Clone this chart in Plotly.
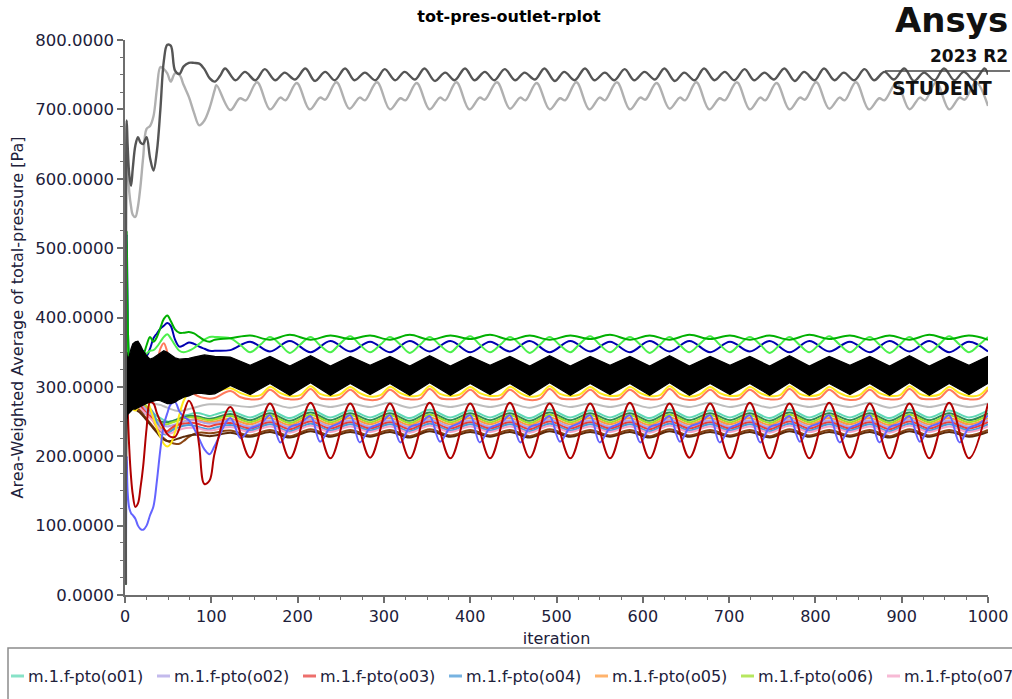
import plotly.graph_objects as go

# ---------------------------------------------------------------------------
# Figure geometry (pixels)
FIG_W, FIG_H = 1012, 699
M_L, M_R, M_T, M_B = 125, 24, 40, 104
PLOT_W = FIG_W - M_L - M_R
PLOT_H = FIG_H - M_T - M_B

FONT = "DejaVu Sans"
TEXT_COLOR = "#20203a"
AXIS_COLOR = "#6e6e6e"

# ---------------------------------------------------------------------------
# Iteration stations
it_start = [1, 2, 3, 5, 7, 9, 12, 15, 18, 21, 25, 29, 33, 37, 41, 45, 49, 53,
            58, 63, 68, 74, 80, 86, 92, 98, 104]

# quarter-cycle stations of the periodic regime (peak, falling, trough, rising)
it_q = [122, 134, 145, 157, 168, 180, 191, 203, 215, 226, 238, 249, 261, 272,
        284, 296, 307, 319, 330, 342, 353, 365, 377, 388, 400, 411, 423, 435,
        446, 458, 469, 481, 492, 504, 516, 527, 539, 550, 562, 573, 585, 597,
        608, 620, 631, 643, 654, 666, 678, 689, 701, 712, 724, 736, 747, 759,
        770, 782, 793, 805, 816, 828, 840, 851, 863, 874, 886, 898, 909, 921,
        932, 944, 955, 967, 978, 990, 1000]
# half-cycle stations (peaks and troughs only)
it_h = it_q[::2]

# turning points of the two upper curves
it_dgray = [110, 116, 128, 139, 151, 162, 174, 185, 197, 209, 220, 232, 243,
            255, 266, 278, 290, 301, 313, 324, 336, 347, 359, 371, 382, 394,
            405, 417, 428, 440, 452, 463, 475, 486, 498, 509, 521, 533, 544,
            556, 567, 579, 590, 602, 614, 625, 637, 648, 660, 671, 683, 695,
            706, 718, 729, 741, 752, 764, 776, 787, 799, 810, 822, 833, 845,
            857, 868, 880, 891, 903, 914, 926, 938, 949, 961, 972, 984, 996,
            1000]
it_lgray = [106, 122, 133, 140, 153, 168, 180, 186, 199, 214, 226, 232, 245,
            260, 272, 278, 292, 307, 319, 325, 338, 353, 365, 371, 384, 399,
            411, 417, 431, 446, 458, 464, 477, 492, 504, 510, 523, 538, 550,
            556, 570, 585, 597, 603, 616, 631, 643, 649, 662, 677, 689, 695,
            709, 724, 736, 742, 755, 770, 782, 788, 801, 816, 828, 834, 847,
            862, 874, 880, 894, 909, 921, 927, 940, 955, 967, 973, 986, 1000]

# ---------------------------------------------------------------------------
# Series names and colours
names = ["m.1.f-pto(o01)", "m.1.f-pto(o02)", "m.1.f-pto(o03)", "m.1.f-pto(o04)",
         "m.1.f-pto(o05)", "m.1.f-pto(o06)", "m.1.f-pto(o07)", "m.1.f-pto(o08)",
         "m.1.f-pto(o09)", "m.1.f-pto(o10)", "m.1.f-pto(o11)", "m.1.f-pto(o12)",
         "m.1.f-pto(o13)", "m.1.f-pto(o14)", "m.1.f-pto(o15)", "m.1.f-pto(o16)",
         "m.1.f-pto(o17)", "m.1.f-pto(o18)", "m.1.f-pto(o19)", "m.1.f-pto(o20)",
         "m.1.f-pto(o21)"]
colors = ["#5fd9b5", "#b0a3e6", "#e8403c", "#4a9ad8", "#ff9a3c", "#9ee02a",
          "#f5a3c7", "#2e8b57", "#8b4513", "#5c2a0a", "#bdbdbd", "#ff7a5c",
          "#ffe81a", "#6464ff", "#b00000", "#00b000", "#4cf04c", "#0000b0",
          "#000000", "#b0b0b0", "#555555"]

# ---------------------------------------------------------------------------
# Values [Pa]: start-up part on it_start, periodic part on the listed stations
o01_a = [15, 320, 300, 290, 288, 285, 283, 282, 280, 275, 270, 266, 262, 258, 255, 252, 250, 250, 252, 255, 258, 260, 262, 262, 260, 258, 260]
o01_b = [265, 256, 266, 255, 267, 256, 266, 256, 266, 255, 267, 256, 266, 256, 266, 255, 267, 256, 266, 256,
         266, 255, 267, 256, 266, 256, 266, 255, 267, 256, 266, 256, 266, 255, 267, 256, 266, 256, 266]
o02_a = [15, 310, 295, 288, 285, 282, 280, 278, 276, 272, 266, 262, 256, 250, 246, 244, 243, 244, 246, 248, 250, 251, 252, 250, 248, 247, 248]
o02_b = [251, 243, 252, 242, 253, 243, 252, 243, 252, 242, 253, 243, 252, 243, 252, 242, 253, 243, 252, 243,
         252, 242, 253, 243, 252, 243, 252, 242, 253, 243, 252, 243, 252, 242, 253, 243, 252, 243, 252]
o03_a = [15, 305, 292, 285, 282, 280, 278, 276, 273, 268, 262, 258, 250, 242, 236, 234, 236, 240, 244, 246, 247, 248, 248, 246, 244, 243, 245]
o03_b = [248, 240, 249, 239, 250, 240, 249, 240, 249, 239, 250, 240, 249, 240, 249, 239, 250, 240, 249, 240,
         249, 239, 250, 240, 249, 240, 249, 239, 250, 240, 249, 240, 249, 239, 250, 240, 249, 240, 249]
o04_a = [15, 300, 290, 282, 278, 276, 275, 272, 268, 262, 262, 268, 262, 248, 238, 232, 232, 236, 240, 242, 244, 245, 244, 242, 240, 239, 241]
o04_b = [245, 237, 246, 236, 247, 237, 246, 237, 246, 236, 247, 237, 246, 237, 246, 236, 247, 237, 246, 237,
         246, 236, 247, 237, 246, 237, 246, 236, 247, 237, 246, 237, 246, 236, 247, 237, 246, 237, 246]
o05_a = [15, 315, 298, 290, 286, 284, 282, 280, 278, 274, 268, 262, 255, 248, 242, 238, 236, 238, 242, 246, 250, 252, 253, 252, 250, 249, 250]
o05_b = [254, 246, 255, 245, 256, 246, 255, 246, 255, 245, 256, 246, 255, 246, 255, 245, 256, 246, 255, 246,
         255, 245, 256, 246, 255, 246, 255, 245, 256, 246, 255, 246, 255, 245, 256, 246, 255, 246, 255]
o06_a = [15, 320, 300, 292, 290, 288, 286, 284, 282, 278, 272, 266, 260, 252, 248, 246, 246, 248, 250, 252, 254, 256, 256, 255, 253, 252, 253]
o06_b = [258, 249, 259, 248, 260, 249, 259, 249, 259, 248, 260, 249, 259, 249, 259, 248, 260, 249, 259, 249,
         259, 248, 260, 249, 259, 249, 259, 248, 260, 249, 259, 249, 259, 248, 260, 249, 259, 249, 259]
o07_a = [15, 300, 288, 280, 276, 274, 272, 270, 268, 265, 260, 255, 250, 244, 238, 234, 232, 233, 236, 238, 240, 241, 241, 240, 238, 237, 238]
o07_b = [242, 235, 243, 234, 244, 235, 243, 235, 243, 234, 244, 235, 243, 235, 243, 234, 244, 235, 243, 235,
         243, 234, 244, 235, 243, 235, 243, 234, 244, 235, 243, 235, 243, 234, 244, 235, 243, 235, 243]
o08_a = [15, 318, 300, 292, 288, 285, 284, 282, 280, 276, 270, 264, 258, 252, 250, 249, 249, 250, 252, 254, 256, 258, 258, 257, 255, 254, 255]
o08_b = [261, 252, 262, 251, 263, 252, 262, 252, 262, 251, 263, 252, 262, 252, 262, 251, 263, 252, 262, 252,
         262, 251, 263, 252, 262, 252, 262, 251, 263, 252, 262, 252, 262, 251, 263, 252, 262, 252, 262]
o09_a = [15, 295, 285, 278, 274, 272, 270, 268, 265, 260, 254, 248, 242, 236, 230, 226, 222, 220, 218, 218, 222, 228, 232, 234, 234, 233, 234]
o09_b = [237, 230, 238, 229, 239, 230, 238, 230, 238, 229, 239, 230, 238, 230, 238, 229, 239, 230, 238, 230,
         238, 229, 239, 230, 238, 230, 238, 229, 239, 230, 238, 230, 238, 229, 239, 230, 238, 230, 238]
o10_a = [15, 290, 282, 275, 272, 270, 268, 265, 262, 258, 252, 246, 240, 234, 228, 224, 222, 222, 224, 226, 228, 230, 231, 231, 230, 229, 230]
o10_b = [234, 228, 235, 227, 236, 228, 235, 228, 235, 227, 236, 228, 235, 228, 235, 227, 236, 228, 235, 228,
         235, 227, 236, 228, 235, 228, 235, 227, 236, 228, 235, 228, 235, 227, 236, 228, 235, 228, 235]

# grey, below the black band (half-cycle stations)
o11_a = [15, 300, 290, 285, 282, 280, 280, 282, 284, 283, 280, 278, 276, 275, 274, 272, 270, 268, 266, 265, 266, 268, 270, 272, 274, 275, 275]
o11_b = [274, 271, 276, 270, 276, 271, 276, 271, 277, 270, 276, 271, 276, 271, 276, 270, 277, 271, 276, 271,
         276, 270, 276, 271, 277, 271, 276, 270, 276, 271, 276, 271, 277, 270, 276, 271, 276, 271, 276]

# salmon and yellow (quarter-cycle stations)
o12_a = [15, 350, 320, 300, 295, 290, 292, 300, 305, 300, 290, 295, 305, 330, 355, 363, 350, 330, 315, 305, 300, 296, 290, 286, 284, 283, 284]
o12_b = [294, 285, 282, 283, 296, 285, 282, 283, 297, 284, 282, 284, 296, 285, 281, 283, 296, 285, 282, 283,
         297, 284, 282, 284, 296, 285, 282, 283, 296, 285, 281, 283, 297, 284, 282, 284, 296, 285, 282, 283,
         296, 285, 282, 283, 297, 284, 281, 284, 296, 285, 282, 283, 296, 285, 282, 283, 297, 284, 282, 284,
         296, 285, 281, 283, 296, 285, 282, 283, 297, 284, 282, 284, 296, 285, 282, 283, 296]
o13_a = [15, 330, 300, 280, 275, 268, 266, 270, 280, 285, 282, 270, 255, 240, 228, 218, 214, 218, 235, 260, 280, 292, 296, 295, 292, 290, 292]
o13_b = [298, 291, 287, 288, 300, 291, 287, 288, 301, 290, 287, 289, 300, 291, 286, 288, 300, 291, 287, 288,
         301, 290, 287, 289, 300, 291, 287, 288, 300, 291, 286, 288, 301, 290, 287, 289, 300, 291, 287, 288,
         300, 291, 287, 288, 301, 290, 286, 289, 300, 291, 287, 288, 300, 291, 287, 288, 301, 290, 287, 289,
         300, 291, 286, 288, 300, 291, 287, 288, 301, 290, 287, 289, 300, 291, 287, 288, 300]

# slate blue (quarter-cycle stations)
o14_a = [15, 200, 150, 125, 118, 115, 110, 100, 95, 94, 100, 115, 128, 165, 210, 245, 262, 275, 278, 265, 257, 252, 240, 225, 210, 203, 215]
o14_b = [255, 226, 240, 246, 259, 220, 242, 247, 258, 221, 242, 248, 259, 220, 241, 247, 259, 220, 242, 247,
         258, 221, 242, 248, 259, 220, 241, 247, 259, 220, 242, 247, 258, 221, 242, 248, 259, 220, 241, 247,
         259, 220, 242, 247, 258, 221, 242, 248, 259, 220, 241, 247, 259, 220, 242, 247, 258, 221, 242, 248,
         259, 220, 241, 247, 259, 220, 242, 247, 258, 221, 242, 248, 259, 220, 241, 247, 259]

# dark red (half-cycle stations)
o15_a = [15, 300, 271, 210, 170, 145, 127, 132, 155, 185, 240, 278, 276, 262, 250, 240, 232, 228, 228, 240, 262, 280, 265, 215, 160, 165, 205]
o15_b = [271, 198, 276, 197, 277, 197, 276, 198, 276, 197, 277, 197, 276, 197, 277, 198, 276, 197, 276, 197,
         277, 197, 276, 198, 276, 197, 277, 197, 276, 197, 277, 198, 276, 197, 276, 197, 277, 197, 276]

# green (half-cycle stations)
o16_a = [15, 525, 400, 330, 300, 320, 340, 345, 340, 345, 360, 372, 365, 372, 385, 398, 403, 395, 383, 378, 378, 379, 377, 372, 367, 365, 368]
o16_b = [370, 374, 368, 375, 368, 374, 369, 374, 368, 375, 368, 374, 369, 375, 368, 374, 368, 374, 369, 375,
         368, 374, 368, 375, 369, 374, 368, 374, 368, 375, 369, 374, 368, 374, 368, 375, 369, 374, 368]

# light green (quarter-cycle stations)
o17_a = [15, 480, 380, 300, 290, 300, 310, 320, 330, 340, 348, 352, 353, 358, 365, 372, 376, 370, 360, 352, 350, 352, 356, 362, 368, 372, 372]
o17_b = [370, 360, 350, 361, 372, 361, 349, 361, 372, 360, 350, 362, 373, 361, 350, 361, 372, 361, 349, 361,
         372, 360, 350, 362, 373, 361, 350, 361, 372, 361, 349, 361, 372, 360, 350, 362, 373, 361, 350, 361,
         372, 361, 349, 361, 372, 360, 350, 362, 373, 361, 350, 361, 372, 361, 349, 361, 372, 360, 350, 362,
         373, 361, 350, 361, 372, 361, 349, 361, 372, 360, 350, 362, 373, 361, 350, 361, 372]

# navy (half-cycle stations)
o18_a = [15, 520, 420, 330, 320, 335, 345, 350, 352, 352, 345, 355, 370, 377, 384, 388, 392, 388, 368, 358, 360, 364, 362, 358, 355, 352, 352]
o18_b = [353, 365, 351, 366, 350, 366, 351, 365, 350, 366, 351, 366, 350, 365, 351, 366, 350, 366, 351, 365,
         350, 366, 351, 366, 350, 365, 351, 366, 350, 366, 351, 365, 350, 366, 351, 366, 350, 365, 351]

# black: fast oscillation, kept as its upper / lower envelope (half-cycle stations)
o19_hi_a = [15, 350, 340, 345, 355, 362, 365, 366, 360, 352, 345, 340, 342, 345, 348, 352, 350, 346, 342, 340, 340, 341, 343, 345, 346, 345, 344]
o19_lo_a = [15, 250, 260, 262, 265, 268, 268, 270, 272, 274, 276, 278, 280, 281, 280, 278, 276, 276, 278, 282, 285, 287, 290, 291, 290, 289, 290]
o19_hi_b = [343, 331, 344, 330, 345, 330, 344, 331, 344, 330, 345, 330, 344, 331, 344, 330, 345, 330, 344, 331,
            344, 330, 345, 330, 344, 331, 344, 330, 345, 330, 344, 331, 344, 330, 345, 330, 344, 331, 344]
o19_lo_b = [302, 289, 305, 288, 306, 288, 305, 289, 305, 288, 306, 288, 305, 289, 305, 288, 306, 288, 305, 289,
            305, 288, 306, 288, 305, 289, 305, 288, 306, 288, 305, 289, 305, 288, 306, 288, 305, 289, 305]

# light grey (own turning points)
o20_a = [15, 641, 620, 580, 560, 548, 545, 560, 590, 630, 672, 676, 690, 730, 761, 758, 752, 740, 752, 750, 735, 718, 695, 677, 684, 702, 728]
o20_b = [735, 699, 716, 713,
         739, 700, 717, 713, 738, 700, 717, 714, 739, 701, 717, 713, 739, 700, 716, 713, 738, 700, 717, 713,
         739, 700, 717, 714, 739, 701, 717, 713, 738, 700, 716, 713, 739, 700, 717, 713, 739, 700, 717, 714,
         738, 701, 717, 713, 739, 700, 716, 713, 739, 700, 717, 713, 738, 700, 717, 714, 739, 701, 717, 713,
         739, 700, 716, 713, 738, 700, 717, 713, 739, 700, 717, 714,
         739, 705]

# dark grey (own turning points)
o21_a = [15, 684, 650, 605, 590, 615, 648, 660, 652, 650, 660, 630, 612, 640, 700, 770, 793, 792, 756, 751, 762, 767, 767, 766, 758, 745, 740]
o21_b = [748,
         759, 742, 754, 742, 758, 742, 753, 743, 759, 741, 754, 742, 759, 742, 753, 742, 758, 742, 754, 743,
         759, 741, 753, 742, 759, 742, 754, 742, 758, 742, 753, 743, 759, 741, 754, 742, 759, 742, 753, 742,
         758, 742, 754, 743, 759, 741, 753, 742, 759, 742, 754, 742, 758, 742, 753, 743, 759, 741, 754, 742,
         759, 742, 753, 742, 758, 742, 754, 743, 759, 741, 753, 742, 759, 742, 754, 742,
         759, 750]

# axis ticks
y_ticks = [0, 100, 200, 300, 400, 500, 600, 700, 800]
x_ticks = [0, 100, 200, 300, 400, 500, 600, 700, 800, 900, 1000]

# ---------------------------------------------------------------------------
fig = go.Figure()


def add_series(idx, x_tail, y_head, y_tail, width=2.0, shape="spline"):
    fig.add_trace(go.Scatter(
        x=it_start + x_tail, y=y_head + y_tail, mode="lines", name=names[idx],
        line=dict(color=colors[idx], width=width, shape=shape, smoothing=1.0),
        showlegend=False, hoverinfo="skip"))


# bundle of outlets around 230-265 Pa
add_series(0, it_h, o01_a, o01_b)
add_series(7, it_h, o08_a, o08_b)
add_series(5, it_h, o06_a, o06_b)
add_series(4, it_h, o05_a, o05_b)
add_series(1, it_h, o02_a, o02_b)
add_series(2, it_h, o03_a, o03_b)
add_series(3, it_h, o04_a, o04_b)
add_series(6, it_h, o07_a, o07_b)
add_series(8, it_h, o09_a, o09_b)
add_series(9, it_h, o10_a, o10_b)
# mid-level outlets
add_series(10, it_h, o11_a, o11_b)
add_series(11, it_q, o12_a, o12_b)
add_series(12, it_q, o13_a, o13_b)
add_series(13, it_q, o14_a, o14_b)
add_series(14, it_h, o15_a, o15_b)
add_series(17, it_h, o18_a, o18_b)
add_series(16, it_q, o17_a, o17_b)
add_series(15, it_h, o16_a, o16_b)

# black band
fig.add_trace(go.Scatter(
    x=it_start + it_h, y=o19_lo_a + o19_lo_b, mode="lines", name=names[18],
    line=dict(color=colors[18], width=1.2, shape="linear"),
    showlegend=False, hoverinfo="skip"))
fig.add_trace(go.Scatter(
    x=it_start + it_h, y=o19_hi_a + o19_hi_b, mode="lines", name=names[18],
    line=dict(color=colors[18], width=1.2, shape="linear"),
    fill="tonexty", fillcolor=colors[18],
    showlegend=False, hoverinfo="skip"))

# upper pair
add_series(19, it_lgray, o20_a, o20_b, width=2.4)
add_series(20, it_dgray, o21_a, o21_b, width=2.4)


# ---------------------------------------------------------------------------
def px_x(px):
    return (px - M_L) / PLOT_W


def px_y(py):
    return (FIG_H - M_B - py) / PLOT_H


shapes = []
annotations = []

# legend frame and entries
shapes.append(dict(type="rect", xref="paper", yref="paper",
                   x0=px_x(8), x1=px_x(1040), y0=px_y(648), y1=px_y(730),
                   line=dict(color="#8c8c8c", width=1.5), fillcolor="rgba(0,0,0,0)", layer="above"))
entry_step = 146.0
for i in range(len(names)):
    x0 = 11 + i * entry_step
    if x0 > FIG_W:
        break
    shapes.append(dict(type="line", xref="paper", yref="paper",
                       x0=px_x(x0), x1=px_x(x0 + 13), y0=px_y(676), y1=px_y(676),
                       line=dict(color=colors[i], width=3), opacity=0.75))
    annotations.append(dict(text=names[i], xref="paper", yref="paper",
                            x=px_x(x0 + 15), y=px_y(676), xanchor="left", yanchor="middle",
                            showarrow=False, font=dict(family=FONT, size=16, color=TEXT_COLOR)))

# product mark, top right
annotations.append(dict(text="<b>Ansys</b>", xref="paper", yref="paper",
                        x=px_x(1010), y=px_y(20), xanchor="right", yanchor="middle",
                        showarrow=False, font=dict(family=FONT, size=34, color="#111111")))
annotations.append(dict(text="<b>2023 R2</b>", xref="paper", yref="paper",
                        x=px_x(1010), y=px_y(56), xanchor="right", yanchor="middle",
                        showarrow=False, font=dict(family=FONT, size=17, color="#111111")))
annotations.append(dict(text="<b>STUDENT</b>", xref="paper", yref="paper",
                        x=px_x(942), y=px_y(88), xanchor="center", yanchor="middle",
                        showarrow=False, font=dict(family=FONT, size=19, color="#111111")))
shapes.append(dict(type="line", xref="paper", yref="paper",
                   x0=px_x(885), x1=px_x(1010), y0=px_y(71), y1=px_y(71),
                   line=dict(color="#444444", width=1.5), layer="above"))

fig.update_layout(
    width=FIG_W, height=FIG_H,
    margin=dict(l=M_L, r=M_R, t=M_T, b=M_B, pad=0, autoexpand=False),
    paper_bgcolor="white", plot_bgcolor="white",
    showlegend=False,
    title=dict(text="<b>tot-pres-outlet-rplot</b>", x=509 / FIG_W, xref="container",
               xanchor="center", y=1 - 16 / FIG_H, yref="container", yanchor="middle",
               font=dict(family=FONT, size=16, color="black")),
    font=dict(family=FONT, size=16, color=TEXT_COLOR),
    shapes=shapes, annotations=annotations,
)

fig.update_xaxes(
    range=[0, 1000], tickvals=x_ticks, ticks="outside", ticklen=6, tickwidth=1.5,
    tickcolor=AXIS_COLOR, showline=True, linecolor=AXIS_COLOR, linewidth=1.5,
    showgrid=False, zeroline=False, automargin=False,
    tickfont=dict(family=FONT, size=16, color=TEXT_COLOR),
    title=dict(text="iteration", standoff=8, font=dict(family=FONT, size=16, color=TEXT_COLOR)),
    minor=dict(dtick=25, ticks="outside", ticklen=3, tickcolor=AXIS_COLOR, tickwidth=1, showgrid=False),
)
fig.update_yaxes(
    range=[0, 800], tickvals=y_ticks, tickformat=".4f", ticks="outside", ticklen=6, tickwidth=1.5,
    tickcolor=AXIS_COLOR, showline=True, linecolor=AXIS_COLOR, linewidth=1.5,
    showgrid=False, zeroline=False, automargin=False,
    tickfont=dict(family=FONT, size=16.5, color=TEXT_COLOR),
    title=dict(text="Area-Weighted Average of total-pressure [Pa]", standoff=8,
               font=dict(family=FONT, size=16, color=TEXT_COLOR)),
    minor=dict(dtick=25, ticks="outside", ticklen=3, tickcolor=AXIS_COLOR, tickwidth=1, showgrid=False),
)

fig.write_html("out.html")
